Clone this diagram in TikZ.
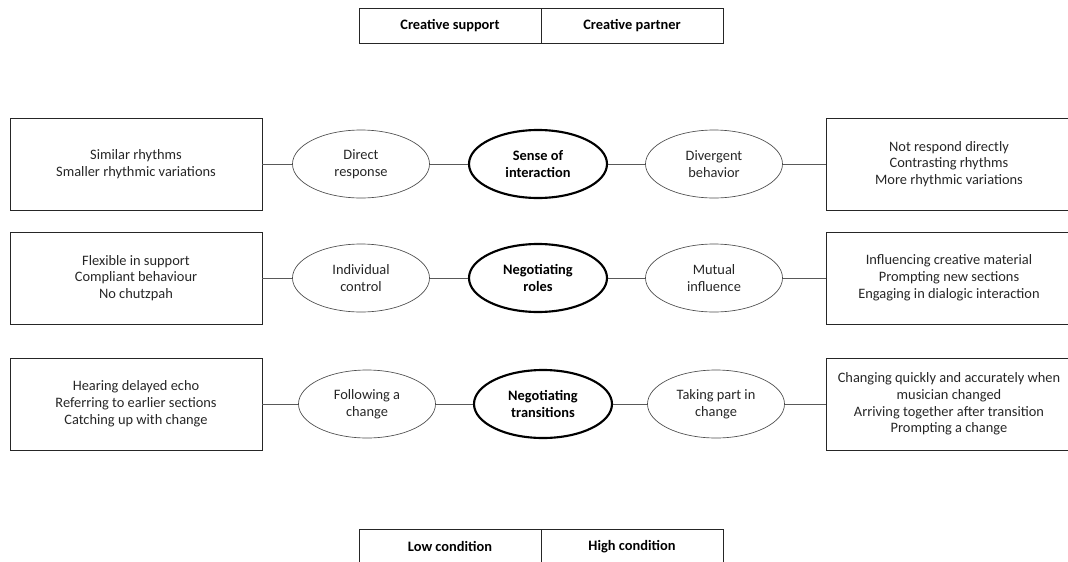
\documentclass[tikz,border=0pt]{standalone}
\usepackage{fontspec}
\setmainfont{Carlito}
\usetikzlibrary{shapes}

\tikzset{
	textbox/.style={draw=black!85, line width=0.6pt, align=center, text=black!85, inner sep=0pt, minimum height=69pt, font=\fontsize{10.8}{12.6}\selectfont},
	sideell/.style={ellipse, draw=black!70, line width=0.5pt, align=center, text=black!85, inner sep=0pt, minimum width=102.75pt, minimum height=51pt, font=\fontsize{10.8}{12.6}\selectfont},
	themeell/.style={ellipse, draw=black, line width=1.6pt, align=center, inner sep=0pt, minimum width=103.5pt, minimum height=51pt, font=\fontsize{10.8}{12.6}\selectfont\bfseries},
	headcell/.style={draw=black!85, line width=0.6pt, inner sep=0pt, minimum width=136.5pt, minimum height=26.25pt, font=\fontsize{10.8}{12}\selectfont\bfseries},
	link/.style={draw=black!65, line width=0.6pt}
}

\begin{document}
\begin{tikzpicture}[x=0.75pt, y=-0.75pt]
		\useasboundingbox (0,0) rectangle (1068,561);

		%Header
		\node at (450,25.5) (hsupport) [headcell] {Creative support};
		\node at (632,25.5) (hpartner) [headcell] {Creative partner};

		% Row 1
		\node at (136,164) (lbox1) [textbox, minimum width=189pt] {Similar rhythms\\Smaller rhythmic variations};
		\node at (361,164) (lell1) [sideell] {Direct\\response};
		\node at (538,164) (theme1) [themeell] {Sense of\\interaction};
		\node at (714,164) (rell1) [sideell] {Divergent\\behavior};
		\node at (949,164) (rbox1) [textbox, minimum width=184.5pt] {Not respond directly\\Contrasting rhythms\\More rhythmic variations};
		\draw[link] (lbox1.east) -- (lell1.west);
		\draw[link] (lell1.east) -- (theme1.west);
		\draw[link] (theme1.east) -- (rell1.west);
		\draw[link] (rell1.east) -- (rbox1.west);

		% Row 2
		\node at (136,278) (lbox2) [textbox, minimum width=189pt] {Flexible in support\\Compliant behaviour\\No chutzpah};
		\node at (361,278) (lell2) [sideell] {Individual\\control};
		\node at (538,278) (theme2) [themeell] {Negotiating\\roles};
		\node at (714,278) (rell2) [sideell] {Mutual\\influence};
		\node at (949,278) (rbox2) [textbox, minimum width=184.5pt] {Influencing creative material\\Prompting new sections\\Engaging in dialogic interaction};
		\draw[link] (lbox2.east) -- (lell2.west);
		\draw[link] (lell2.east) -- (theme2.west);
		\draw[link] (theme2.east) -- (rell2.west);
		\draw[link] (rell2.east) -- (rbox2.west);

		% Row 3
		\node at (136,404) (lbox3) [textbox, minimum width=189pt] {Hearing delayed echo\\Referring to earlier sections\\Catching up with change};
		\node at (367,404) (lell3) [sideell] {Following a\\change};
		\node at (543,404) (theme3) [themeell] {Negotiating\\transitions};
		\node at (716,404) (rell3) [sideell] {Taking part in\\change};
		\node at (949,404) (rbox3) [textbox, minimum width=184.5pt] {Changing quickly and accurately when\\musician changed\\Arriving together after transition\\Prompting a change};
		\draw[link] (lbox3.east) -- (lell3.west);
		\draw[link] (lell3.east) -- (theme3.west);
		\draw[link] (theme3.east) -- (rell3.west);
		\draw[link] (rell3.east) -- (rbox3.west);

		%Footer
		\node at (450,546.5) (hlow) [headcell] {Low condition};
		\node at (632,546.5) (hhigh) [headcell] {High condition};
	\end{tikzpicture}
\end{document}
